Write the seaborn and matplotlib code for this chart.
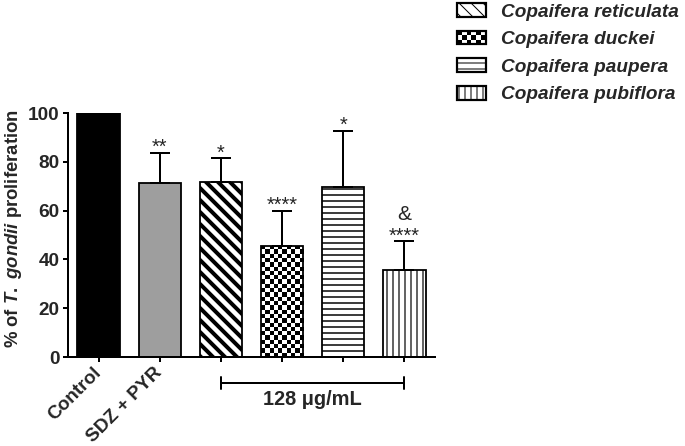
"""Bar chart of T. gondii proliferation with Copaifera oils."""

import numpy as np
import pandas as pd
import matplotlib
matplotlib.use('Agg')
import matplotlib.pyplot as plt
import matplotlib.patches as mpatches
import matplotlib.transforms as mtransforms
from matplotlib.legend_handler import HandlerBase
import seaborn as sns

# data
groups = ['Control', 'SDZ + PYR', 'Copaifera reticulata', 'Copaifera duckei',
          'Copaifera paupera', 'Copaifera pubiflora']
tick_labels = ['Control', 'SDZ + PYR', '', '', '', '']
means = [100, 71.2, 71.9, 45.5, 69.8, 35.7]
upper_sd = [0, 12.5, 9.5, 14.5, 22.8, 11.7]
stars = ['', '**', '*', '****', '*', '****']
extra_marks = ['', '', '', '', '', '&']
bar_colors = ['black', '#9e9e9e', 'white', 'white', 'white', 'white']
bar_hatches = ['', '', '\\\\', 'checker', '--', '||']
hatch_widths = [1, 1, 4, 1, 1.5, 1.2]
legend_groups = groups[2:]
conc_label = '128 μg/mL'

DPI = 72
FONT = 'Liberation Sans'


def add_checker(ax, patch, size_px=4.3):
    """Fill a bar with a checkerboard image clipped to the bar."""
    x0, w, h = patch.get_x(), patch.get_width(), patch.get_height()
    (px0, py0), (px1, py1) = ax.transData.transform([(x0, 0), (x0 + w, h)])
    ncol = max(1, int(round((px1 - px0) / size_px)))
    nrow = max(1, int(round((py1 - py0) / size_px)))
    board = np.indices((nrow, ncol)).sum(axis=0) % 2
    im = ax.imshow(board, cmap='gray', extent=(x0, x0 + w, 0, h),
                   interpolation='nearest', aspect='auto',
                   zorder=patch.get_zorder() - 0.1)
    im.set_clip_path(patch)
    patch.set_facecolor('none')


class CheckerHandler(HandlerBase):
    """Legend handle drawn as a small checkerboard box."""

    def create_artists(self, legend, orig_handle, xdescent, ydescent,
                       width, height, fontsize, trans):
        arts = []
        ncol, nrow = 6, 3
        cw, ch = width / ncol, height / nrow
        for r in range(nrow):
            for c in range(ncol):
                if (r + c) % 2 == 0:
                    arts.append(mpatches.Rectangle(
                        (-xdescent + c * cw, -ydescent + r * ch), cw, ch,
                        facecolor='black', edgecolor='none', transform=trans))
        arts.append(mpatches.Rectangle(
            (-xdescent, -ydescent), width, height, facecolor='none',
            edgecolor='black', lw=2.2, transform=trans))
        return arts


sns.set_style('white')
plt.rcParams['font.family'] = [FONT, 'DejaVu Sans']
plt.rcParams['mathtext.fontset'] = 'custom'
plt.rcParams['mathtext.it'] = FONT + ':italic:bold'
plt.rcParams['mathtext.rm'] = FONT + ':bold'

df = pd.DataFrame({'group': groups, 'mean': means})

fig = plt.figure(figsize=(685 / DPI, 446 / DPI), dpi=DPI)
ax = fig.add_axes([68 / 685, 1 - 357 / 446, (435 - 68) / 685, (357 - 113) / 446])

sns.barplot(data=df, x='group', y='mean', hue='group', palette=bar_colors,
            order=groups, hue_order=groups, legend=False, width=0.69,
            edgecolor='black', linewidth=1.8, saturation=1, ax=ax)
ax.set_xlim(-0.5, 5.5)
ax.set_ylim(0, 100)

checker_patches = []
for patch, hatch, hw in zip(ax.patches, bar_hatches, hatch_widths):
    if hatch == 'checker':
        checker_patches.append(patch)
    elif hatch:
        patch.set_hatch(hatch)
        if hasattr(patch, 'set_hatch_linewidth'):
            patch.set_hatch_linewidth(hw)
for patch in checker_patches:
    add_checker(ax, patch)
ax.set_xlim(-0.5, 5.5)
ax.set_ylim(0, 100)

# upper-only error bars
xs = [i for i, s in enumerate(upper_sd) if s > 0]
ys = [means[i] for i in xs]
errs = [upper_sd[i] for i in xs]
ax.errorbar(xs, ys, yerr=[np.zeros(len(xs)), errs], fmt='none', ecolor='black',
            elinewidth=2, capsize=10, capthick=2, zorder=5)

for i, (s, e) in enumerate(zip(stars, extra_marks)):
    top = means[i] + upper_sd[i]
    if s:
        ax.annotate(s, xy=(i, top), xytext=(0, 0), textcoords='offset points',
                    ha='center', va='baseline', fontsize=20, clip_on=False)
    if e:
        ax.annotate(e, xy=(i, top), xytext=(0, 21), textcoords='offset points',
                    ha='center', va='baseline', fontsize=21, clip_on=False)

# axes styling
for side in ['top', 'right']:
    ax.spines[side].set_visible(False)
for side in ['left', 'bottom']:
    ax.spines[side].set_linewidth(2)
    ax.spines[side].set_color('black')
ax.set_yticks(range(0, 101, 20))
ax.set_xticks(range(len(groups)))
ax.set_xticklabels(tick_labels, rotation=45, ha='right', va='center',
                   rotation_mode='anchor', fontweight='bold', fontsize=19)
ax.tick_params(axis='both', which='both', direction='out', length=5, width=2,
               color='black', bottom=True, left=True)
ax.tick_params(axis='x', pad=8)
for lab in ax.get_yticklabels():
    lab.set_fontweight('bold')
    lab.set_fontsize(19)
ax.set_xlabel('')
ax.set_ylabel(r'% of $\mathit{T.\ gondii}$ proliferation', fontsize=18.5,
              fontweight='bold')
ax.yaxis.set_label_coords(-0.12, 0.5 + 6 / 244)

# concentration bracket below the oil bars
trans = mtransforms.blended_transform_factory(ax.transData, ax.transAxes)
yb = -0.107
ax.plot([2, 5], [yb, yb], color='black', lw=2, transform=trans, clip_on=False)
for xe in [2, 5]:
    ax.plot([xe, xe], [yb - 0.025, yb + 0.025], color='black', lw=2,
            transform=trans, clip_on=False)
ax.text(3.5, -0.176, conc_label, transform=trans, ha='center', va='center',
        fontsize=20, fontweight='bold')

# legend for the oil bars
handles = []
for g, hatch, hw in zip(groups[2:], bar_hatches[2:], hatch_widths[2:]):
    if hatch == 'checker':
        h = mpatches.Patch(facecolor='white', edgecolor='black', label=g)
        checker_handle = h
    else:
        h = mpatches.Patch(facecolor='white', edgecolor='black', hatch=hatch,
                           lw=2.2, label=g)
        if hasattr(h, 'set_hatch_linewidth'):
            h.set_hatch_linewidth(min(hw, 3))
    handles.append(h)

leg = fig.legend(handles=handles, labels=legend_groups, loc='upper left',
                 bbox_to_anchor=(457 / 685, 1 - 3 / 446), frameon=False,
                 borderaxespad=0, borderpad=0.0,
                 prop={'family': FONT, 'style': 'italic', 'weight': 'bold', 'size': 19},
                 handlelength=1.5, handleheight=0.74, handletextpad=0.8,
                 labelspacing=0.53,
                 handler_map={checker_handle: CheckerHandler()})

fig.savefig('out.png', dpi=DPI)
